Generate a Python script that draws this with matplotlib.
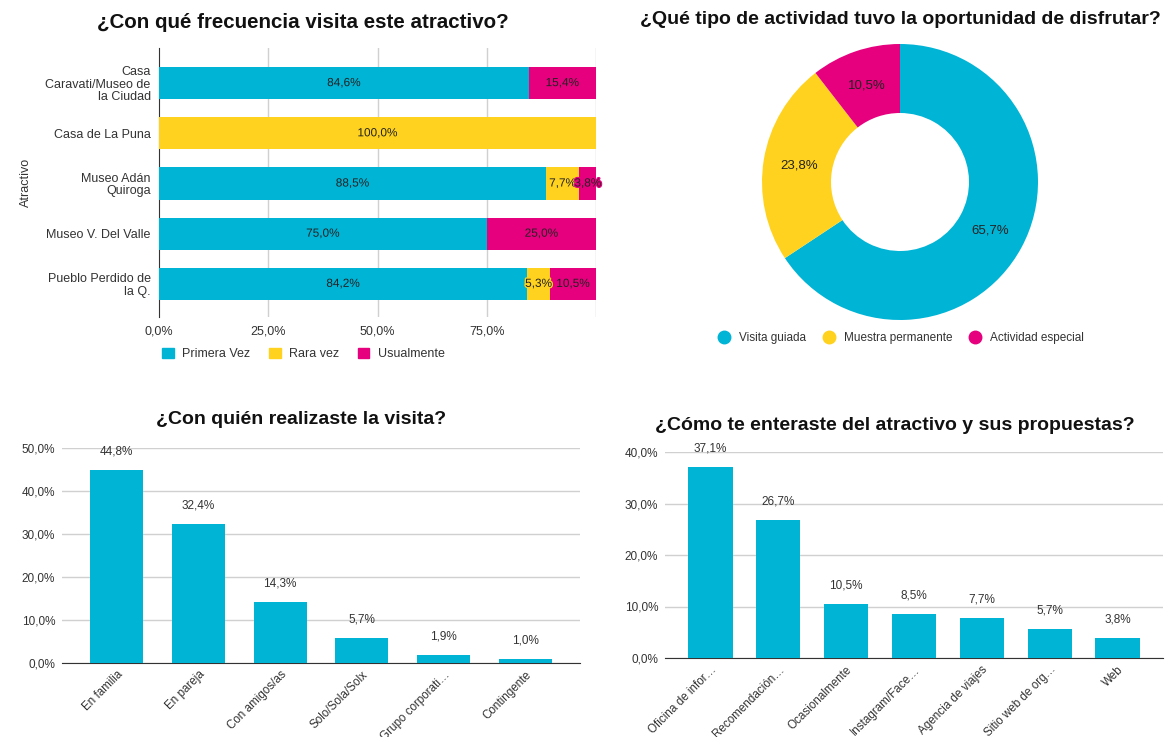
import numpy as np
import matplotlib.pyplot as plt
import matplotlib.patheffects as pe
from matplotlib.patches import Patch
from matplotlib.lines import Line2D

plt.rcParams['font.family'] = ['Liberation Sans', 'DejaVu Sans']

BLUE = "#00b4d6"
YELLOW = "#ffd21f"
PINK = "#e6007e"
GRID = "#d0d0d0"
TXT = "#333333"

# --- data ---
atractivos = ["Casa\nCaravati/Museo de\nla Ciudad", "Casa de La Puna",
              "Museo Adán\nQuiroga", "Museo V. Del Valle", "Pueblo Perdido de\nla Q."]
primera_vez = [84.6, 0.0, 88.5, 75.0, 84.2]
rara_vez = [0.0, 100.0, 7.7, 0.0, 5.3]
usualmente = [15.4, 0.0, 3.8, 25.0, 10.5]

actividades = ["Visita guiada", "Muestra permanente", "Actividad especial"]
actividad_pct = [65.7, 23.8, 10.5]

compania = ["En familia", "En pareja", "Con amigos/as", "Solo/Sola/Solx",
            "Grupo corporati…", "Contingente"]
compania_pct = [44.8, 32.4, 14.3, 5.7, 1.9, 1.0]

medios = ["Oficina de infor…", "Recomendación…", "Ocasionalmente", "Instagram/Face…",
          "Agencia de viajes", "Sitio web de org…", "Web"]
medios_pct = [37.1, 26.7, 10.5, 8.5, 7.7, 5.7, 3.8]

W, H = 1165, 737
fig = plt.figure(figsize=(W / 100, H / 100), dpi=100)


def box(l, t, r, b):
    return [l / W, 1 - b / H, (r - l) / W, (b - t) / H]


def pct(v):
    return f"{v:.1f}%".replace(".", ",")


# --- top left: stacked horizontal bars ---
ax1 = fig.add_axes(box(159, 48, 596, 317))
y = np.arange(len(atractivos))
left = np.zeros(len(atractivos))
for vals, col in [(primera_vez, BLUE), (rara_vez, YELLOW), (usualmente, PINK)]:
    vals = np.array(vals)
    ax1.barh(y, vals, left=left, height=0.64, color=col, zorder=3)
    for yi, l, v in zip(y, left, vals):
        if v > 0:
            ax1.text(l + v / 2, yi, pct(v), ha="center", va="center", fontsize=8.5,
                     color="#222222", zorder=4,
                     path_effects=[pe.withStroke(linewidth=2, foreground=col)])
    left = left + vals
ax1.set_xlim(0, 100)
ax1.set_ylim(4.66, -0.7)
ax1.set_yticks(y)
ax1.set_yticklabels(atractivos, fontsize=9, color=TXT, linespacing=1.05)
ax1.set_xticks([0, 25, 50, 75])
ax1.set_xticklabels(["0,0%", "25,0%", "50,0%", "75,0%"], fontsize=9, color=TXT)
for xv in [25, 50, 75, 100]:
    ax1.axvline(xv, color=GRID, lw=1, zorder=0)
ax1.tick_params(length=0, pad=6)
for s in ["top", "right", "bottom"]:
    ax1.spines[s].set_visible(False)
ax1.spines["left"].set_color(TXT)
ax1.set_ylabel("Atractivo", fontsize=9, color=TXT, labelpad=10)
fig.text(303 / W, 1 - 22 / H, "¿Con qué frecuencia visita este atractivo?",
         ha="center", va="center", fontsize=14.8, fontweight="bold", color="#111111")
ax1.legend(handles=[Patch(color=c, label=l) for c, l in
                    [(BLUE, "Primera Vez"), (YELLOW, "Rara vez"), (PINK, "Usualmente")]],
           loc="center left", bbox_to_anchor=(0.008, -0.137), ncol=3, frameon=False,
           fontsize=9, handlelength=0.9, handleheight=0.9, columnspacing=1.5,
           handletextpad=0.7, labelcolor=TXT, borderpad=0, borderaxespad=0)

# --- top right: donut ---
ax2 = fig.add_axes(box(760, 42, 1040, 322))
wedges, texts = ax2.pie(actividad_pct, colors=[BLUE, YELLOW, PINK], startangle=90,
                        counterclock=False, radius=138 / 140,
                        wedgeprops=dict(width=69 / 140, edgecolor="none"))
for w, v in zip(wedges, actividad_pct):
    ang = np.deg2rad((w.theta1 + w.theta2) / 2)
    r = 0.74 * 138 / 140
    ax2.text(r * np.cos(ang), r * np.sin(ang), pct(v), ha="center", va="center",
             fontsize=9.5, color="#222222")
ax2.set_xlim(-1, 1)
ax2.set_ylim(-1, 1)
ax2.set_aspect("equal")
fig.text(900 / W, 1 - 20 / H, "¿Qué tipo de actividad tuvo la oportunidad de disfrutar?",
         ha="center", va="center", fontsize=14, fontweight="bold", color="#111111")
fig.legend(handles=[Line2D([], [], marker="o", ls="none", markersize=9,
                           markerfacecolor=c, markeredgecolor=c, label=l)
                    for c, l in zip([BLUE, YELLOW, PINK], actividades)],
           loc="center left", bbox_to_anchor=(712 / W, 1 - 338 / H), ncol=3,
           frameon=False, fontsize=8.5, handletextpad=0.3, columnspacing=0.9,
           labelcolor=TXT, borderpad=0, borderaxespad=0)


def column_chart(rect, cats, vals, ymax, step, title, title_x, title_y):
    ax = fig.add_axes(rect)
    x = np.arange(len(cats))
    ax.bar(x, vals, width=0.65, color=BLUE, zorder=3)
    for xi, v in zip(x, vals):
        ax.annotate(pct(v), (xi, v), xytext=(0, 9), textcoords="offset points",
                    ha="center", va="bottom", fontsize=8.5, color=TXT)
    ax.set_xlim(-0.67, len(cats) - 0.33)
    ax.set_ylim(0, ymax)
    ticks = np.arange(0, ymax + 0.1, step)
    ax.set_yticks(ticks)
    ax.set_yticklabels([pct(t) for t in ticks], fontsize=8.5, color=TXT)
    ax.set_xticks(x)
    ax.set_xticklabels(cats, rotation=45, ha="right", va="top",
                       rotation_mode="anchor", fontsize=8.4, color=TXT)
    ax.tick_params(length=0)
    ax.tick_params(axis="y", pad=5)
    ax.tick_params(axis="x", pad=4)
    ax.grid(axis="y", color=GRID, lw=1, zorder=0)
    for s in ["top", "right", "left"]:
        ax.spines[s].set_visible(False)
    ax.spines["bottom"].set_color(TXT)
    fig.text(title_x, 1 - title_y / H, title, ha="center", va="center",
             fontsize=14, fontweight="bold", color="#111111")
    return ax


column_chart(box(62, 448, 580, 663), compania, compania_pct, 50, 10,
             "¿Con quién realizaste la visita?", 301 / W, 420)
column_chart(box(665, 452, 1163, 658), medios, medios_pct, 40, 10,
             "¿Cómo te enteraste del atractivo y sus propuestas?", 895 / W, 425)

fig.savefig("out.png", dpi=100, facecolor="white")
